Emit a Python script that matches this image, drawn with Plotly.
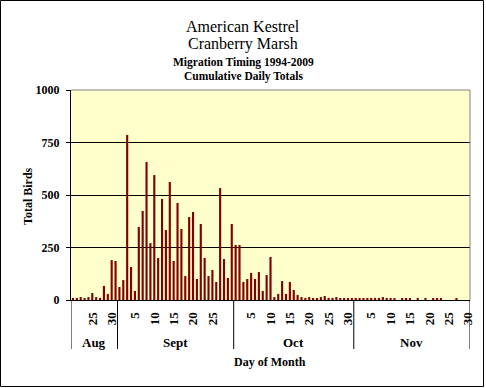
import plotly.graph_objects as go

# ---- data ----
month_names = ["Aug", "Sept", "Oct", "Nov"]
month_first_day = [20, 1, 1, 1]
month_last_day = [31, 30, 31, 30]

total_birds = [
    10, 5, 14, 5, 14, 33, 14, 10, 67, 29, 190, 186,            # Aug 20-31
    62, 95, 786, 157, 43, 348, 424, 657, 271, 595,             # Sept 1-10
    200, 481, 333, 562, 186, 462, 338, 114, 395, 419,          # Sept 11-20
    100, 362, 200, 114, 143, 86, 533, 195, 105, 362,           # Sept 21-30
    262, 262, 86, 100, 129, 100, 133, 43, 119, 205,            # Oct 1-10
    14, 29, 90, 29, 86, 48, 24, 14, 10, 14,                    # Oct 11-20
    5, 5, 14, 19, 10, 10, 14, 5, 5, 5, 5,                      # Oct 21-31
    5, 5, 5, 5, 10, 10, 10, 14, 10, 5,                         # Nov 1-10
    5, 0, 5, 5, 5, 0, 10, 0, 5, 0,                             # Nov 11-20
    5, 5, 5, 0, 0, 0, 5, 0, 0, 0,                              # Nov 21-30
]

labeled_days = {"Aug": [25, 30], "Sept": [5, 10, 15, 20, 25],
                "Oct": [5, 10, 15, 20, 25, 30], "Nov": [5, 10, 15, 20, 25, 30]}

y_ticks = [0, 250, 500, 750, 1000]

title_lines = ["American Kestrel", "Cranberry Marsh",
               "Migration Timing 1994-2009", "Cumulative Daily Totals"]

# ---- build categories ----
categories = []
month_bounds = [-0.5]
for m, d0, d1 in zip(month_names, month_first_day, month_last_day):
    for d in range(d0, d1 + 1):
        categories.append(f"{m} {d}")
    month_bounds.append(len(categories) - 0.5)

tickvals = [f"{m} {d}" for m in month_names for d in labeled_days[m]]
ticktext = [str(d) for m in month_names for d in labeled_days[m]]

W, H = 486, 388
L, R, T, B = 71, 16, 90, 88
PW, PH = W - L - R, H - T - B


def px_x(p):
    return (p - L) / PW


def px_y(p):
    return 1 - (p - T) / PH


serif = "Liberation Serif"
fig = go.Figure()
fig.add_trace(go.Bar(x=categories, y=total_birds, marker=dict(color="#800000", line=dict(width=0)),
                     hoverinfo="x+y"))

shapes = []
# top & right gray plot border
shapes.append(dict(type="line", xref="paper", yref="paper", x0=0, x1=1, y0=1, y1=1,
                   line=dict(color="#808080", width=1)))
shapes.append(dict(type="line", xref="paper", yref="paper", x0=1, x1=1, y0=0, y1=1,
                   line=dict(color="#808080", width=1)))
# month separators
for b in month_bounds:
    shapes.append(dict(type="line", xref="x", yref="paper", x0=b, x1=b,
                       y0=0, y1=px_y(349), line=dict(color="black", width=1)))
# outer border
shapes.append(dict(type="rect", xref="paper", yref="paper",
                   x0=px_x(0.5), x1=px_x(483.5), y0=px_y(386.5), y1=px_y(0.5),
                   line=dict(color="black", width=1)))

annotations = []
# month labels
for i, m in enumerate(month_names):
    annotations.append(dict(x=(month_bounds[i] + month_bounds[i + 1]) / 2, xref="x",
                            y=px_y(342), yref="paper", text=m, showarrow=False,
                            font=dict(family=serif, size=13, color="black", weight="bold"),
                            xanchor="center", yanchor="middle"))
annotations.append(dict(x=px_x(270), xref="paper", y=px_y(362), yref="paper",
                        text="Day of Month", showarrow=False,
                        font=dict(family=serif, size=12, color="black", weight="bold"),
                        xanchor="center", yanchor="middle"))
annotations.append(dict(x=px_x(28), xref="paper", y=px_y(196), yref="paper",
                        text="Total Birds", showarrow=False, textangle=-90,
                        font=dict(family=serif, size=12, color="black", weight="bold"),
                        xanchor="center", yanchor="middle"))
title_specs = [(27, 16, "normal"), (44, 16, "normal"), (62, 11.5, "bold"), (76, 11.5, "bold")]
for txt, (py, sz, wt) in zip(title_lines, title_specs):
    annotations.append(dict(x=px_x(243), xref="paper", y=px_y(py), yref="paper",
                            text=txt, showarrow=False,
                            font=dict(family=serif, size=sz, color="black", weight=wt),
                            xanchor="center", yanchor="middle"))

fig.update_layout(
    width=W, height=H, autosize=False,
    margin=dict(l=L, r=R, t=T, b=B, pad=0),
    paper_bgcolor="white", plot_bgcolor="#FFFFCC",
    bargap=0.45, showlegend=False,
    shapes=shapes, annotations=annotations,
    xaxis=dict(type="category", categoryorder="array", categoryarray=categories,
               range=[-0.5, len(categories) - 0.5],
               tickmode="array", tickvals=tickvals, ticktext=ticktext,
               tickangle=-90, ticks="", showgrid=False, zeroline=False,
               showline=True, linecolor="black", linewidth=1,
               ticklabelstandoff=6,
               tickfont=dict(family=serif, size=13, color="black", weight="bold")),
    yaxis=dict(range=[0, 1000], tickmode="array", tickvals=y_ticks,
               ticks="outside", ticklen=4, tickcolor="black",
               showgrid=True, gridcolor="black", gridwidth=1, zeroline=False,
               showline=True, linecolor="black", linewidth=1,
               ticklabelstandoff=4,
               tickfont=dict(family=serif, size=12, color="black", weight="bold")),
)

fig.write_html("out.html", config={"displayModeBar": False},
               post_script="document.body.style.margin='0';document.body.style.padding='0';")
